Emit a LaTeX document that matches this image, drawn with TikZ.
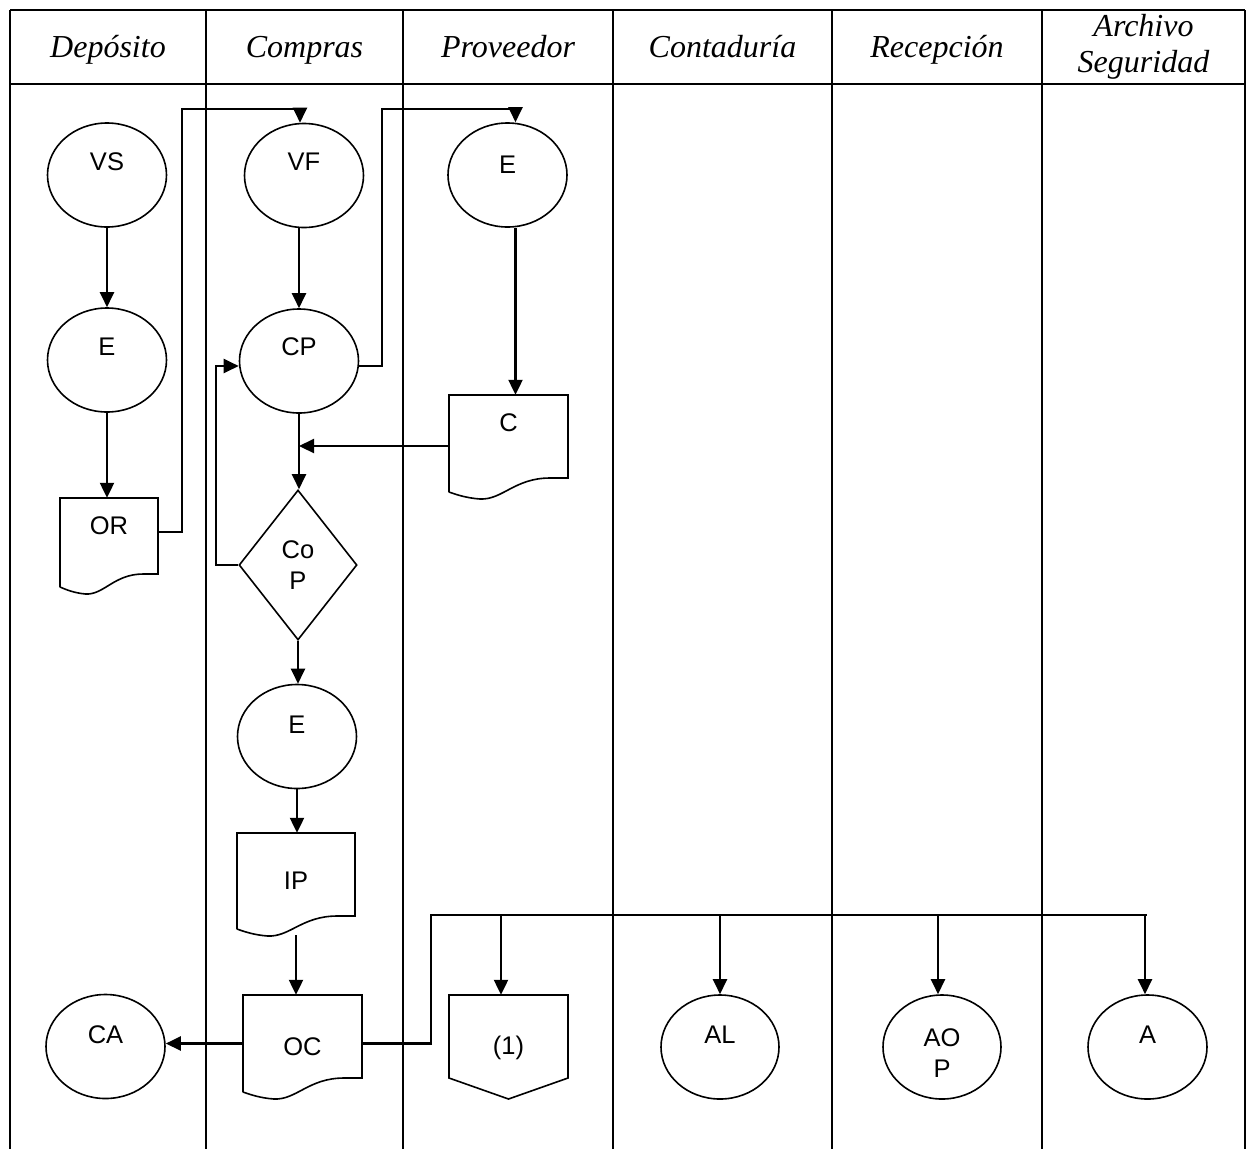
\documentclass[tikz,border=0pt]{standalone}
\usepackage{fontspec}
\setmainfont{Liberation Serif}
\newfontfamily\arialfont{Liberation Sans}
\usetikzlibrary{arrows.meta,shapes.geometric}

% outline of a document symbol: left, top, right, right-bottom, left-bottom
\newcommand\docoutline[5]{%
  \draw[shp] (#1,#5) -- (#1,#2) -- (#3,#2) -- (#3,#4)
    -- ({#3-0.15*(#3-#1)},#4)
    .. controls ({#1+0.55*(#3-#1)},#4) and ({#1+0.45*(#3-#1)},{#5+8}) ..
       ({#1+0.26*(#3-#1)},{#5+7})
    .. controls ({#1+0.15*(#3-#1)},{#5+6}) and ({#1+0.07*(#3-#1)},{#5+3}) ..
       (#1,#5);}

\begin{document}
\begin{tikzpicture}[x=1pt,y=-1pt,
  lane/.style={line width=2pt},
  border/.style={line width=2.6pt},
  head/.style={font=\fontsize{32}{36}\selectfont\itshape, anchor=base, inner sep=0pt},
  txt/.style={font=\arialfont\fontsize{25.5}{30.5}\selectfont, align=center, inner sep=0pt},
  proc/.style={ellipse, draw, line width=1.6pt, minimum width=119pt, minimum height=104pt, inner sep=0pt},
  box/.style={rectangle, draw=none, inner sep=0pt},
  shp/.style={line width=1.6pt, line join=miter},
  flow/.style={line width=2.2pt, -{Triangle[length=15pt,width=14pt]}},
  wire/.style={line width=2.2pt},
]
\useasboundingbox (0,0) rectangle (1250,1149);

% swimlanes
\foreach \x in {10,206,403,613,832,1042}
  \draw[lane] (\x,10) -- (\x,1149);
\draw[border] (1245,10) -- (1245,1149);
\draw[lane] (10,10) -- (1245,10);
\draw[lane] (10,84) -- (1245,84);

% lane headings
\node[head] (hdep) at (108,57) {Depósito};
\node[head] (hcom) at (304.5,57) {Compras};
\node[head] (hpro) at (508,57) {Proveedor};
\node[head] (hcon) at (722.5,57) {Contaduría};
\node[head] (hrec) at (937,57) {Recepción};
\node[head] (harc) at (1143.5,36) {Archivo};
\node[head] (hseg) at (1143.5,72) {Seguridad};

% Depósito
\node[proc, label={[txt,yshift=13pt]center:VS}] (vs) at (107,175) {};
\node[proc, label={[txt,yshift=13pt]center:E}] (e1) at (107,360) {};
\node[box, minimum width=98pt, minimum height=89pt,
      label={[txt,yshift=16.5pt]center:OR}] (or) at (109,542.5) {};
\docoutline{60}{498}{158}{574}{587}
\node[proc, label={[txt,yshift=11.5pt]center:CA}] (ca) at (105.5,1046.5) {};

% Compras
\node[proc, label={[txt,yshift=13.5pt]center:VF}] (vf) at (304,175.5) {};
\node[proc, label={[txt,yshift=14pt]center:CP}] (cp) at (299,361) {};
\node[diamond, draw, shp, minimum width=118pt, minimum height=150pt, inner sep=0pt,
      label={[txt]center:Co\\P}] (cop) at (298,565) {};
\node[proc, label={[txt,yshift=11.5pt]center:E}] (e2) at (297,736.5) {};
\node[box, minimum width=118pt, minimum height=96pt,
      label={[txt]center:IP}] (ip) at (296,881) {};
\docoutline{237}{833}{355}{916}{929}
\node[box, minimum width=119pt, minimum height=97pt,
      label={[txt,yshift=-3.5pt]center:OC}] (oc) at (302.5,1043.5) {};
\docoutline{243}{995}{362}{1078}{1092}

% Proveedor
\node[proc, label={[txt,yshift=10pt]center:E}] (e3) at (507.5,175) {};
\node[box, minimum width=119pt, minimum height=97pt,
      label={[txt,yshift=20.5pt]center:C}] (c) at (508.5,443.5) {};
\docoutline{449}{395}{568}{478}{492}
\node[box, minimum width=119pt, minimum height=104pt,
      label={[txt,yshift=-1pt]center:(1)}] (one) at (508.5,1047) {};
\draw[shp] (449,995) -- (568,995) -- (568,1078) -- (508.5,1099) -- (449,1078) -- cycle;

% Contaduría, Recepción, Archivo Seguridad
\node[proc, minimum width=118pt, label={[txt,yshift=12pt]center:AL}] (al) at (720,1047) {};
\node[proc, minimum width=118pt, label={[txt,yshift=-6pt]center:AO\\P}] (aop) at (942,1047) {};
\node[proc, label={[txt,yshift=12pt]center:A}] (a) at (1147.5,1047) {};

% bend points
\coordinate (jl) at (182,109);
\coordinate (jr) at (382,109);
\coordinate (jloop) at (216,366);
\coordinate (bus) at (431,915);
\coordinate (busend) at (1147,915);
\coordinate (b1) at (501,915);
\coordinate (b2) at (720,915);
\coordinate (b3) at (938,915);
\coordinate (b4) at (1145,915);

% connectors
\draw[flow] (vs.south) -- (vs.south |- e1.north);
\draw[flow] (e1.south) -- (e1.south |- or.north);
\draw[flow] ([yshift=10.5pt]or.east) -| (jl) -| ([xshift=-4pt]vf.north);
\draw[flow] (cp.north |- vf.south) -- (cp.north);
\draw[flow] ([yshift=-5pt]cp.east) -| (jr) -| ([xshift=8pt]e3.north);
\draw[flow] ([xshift=8pt]e3.south) -- ([xshift=8pt]e3.south |- c.north);
\draw[flow] (cp.south) -- (cp.south |- cop.north);
\draw[flow] ([yshift=-2.5pt]c.west) -- ([yshift=-2.5pt]c.west -| cp.south);
\draw[flow] (cop.west) -| (jloop) -- (jloop -| cp.west);
\draw[flow] (cop.south) -- (cop.south |- e2.north);
\draw[flow] (e2.south) -- (e2.south |- ip.north);
\draw[flow] ([yshift=-6pt]ip.south) -- (ip.south |- oc.north);
\draw[flow] (oc.west) -- (oc.west -| ca.east);
\draw[wire] (oc.east) -| (bus) -- (busend);
\draw[flow] (b1) -- (b1 |- one.north);
\draw[flow] (b2) -- (b2 |- al.north);
\draw[flow] (b3) -- (b3 |- aop.north);
\draw[flow] (b4) -- (b4 |- a.north);
\end{tikzpicture}
\end{document}
